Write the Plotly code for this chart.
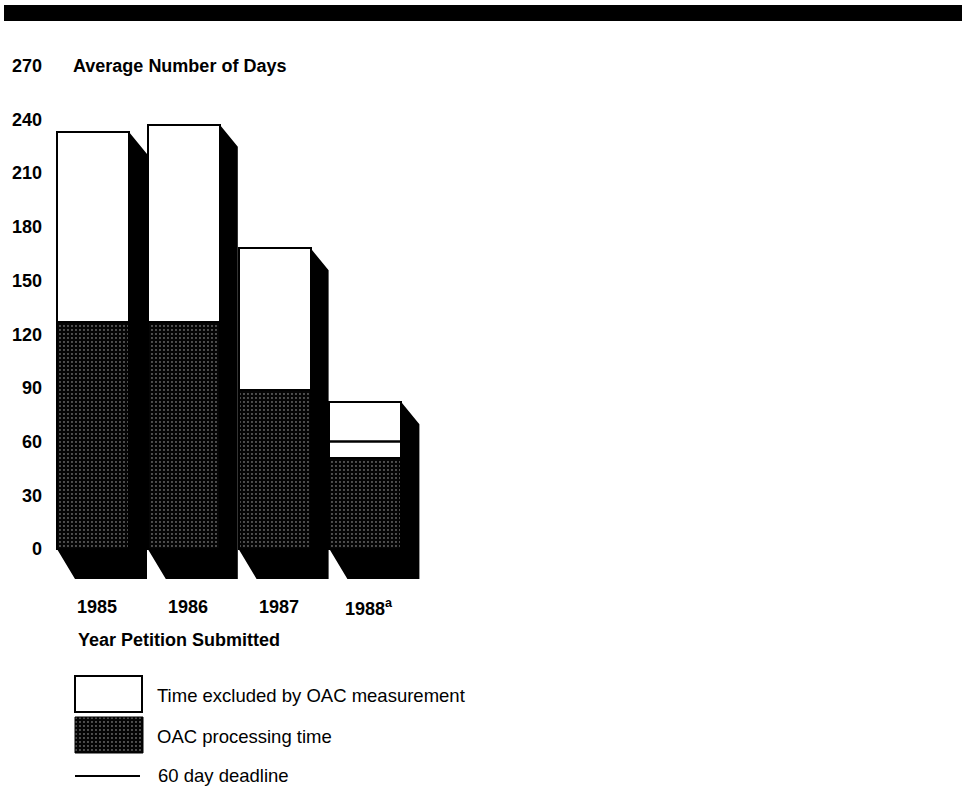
import plotly.graph_objects as go

# Average number of days to process petitions, by year submitted
years = ["1985", "1986", "1987", "1988<sup>a</sup>"]
processing_days = [127, 127, 89, 51]      # OAC processing time
excluded_days = [106, 110, 79, 31]        # time excluded by OAC measurement
deadline_days = 60                        # statutory 60 day deadline
y_ticks = [0, 30, 60, 90, 120, 150, 180, 210, 240, 270]

# ---- page geometry (pixels) ----
FIG_W, FIG_H = 962, 786
L, R, T, B = 50, 0, 0, 0
PW, PH = FIG_W - L - R, FIG_H - T - B
X0_PX, X_STEP = 93.0, 90.8          # pixel centre of first bar, spacing between bars
Y0_PX, Y_SCALE = 549.0, 1.79        # pixel row of zero, pixels per day
BAR_W_PX = 72.0
DEPTH_X, DEPTH_TOP, DEPTH_BASE = 18.0, 22.0, 30.0


def xd(px):
    return (px - X0_PX) / X_STEP


def yd(py):
    return (Y0_PX - py) / Y_SCALE


def xp(px):
    return (px - L) / PW


def yp(py):
    return (T + PH - py) / PH


bar_w = BAR_W_PX / X_STEP
dx = DEPTH_X / X_STEP
dy_top = DEPTH_TOP / Y_SCALE
dy_base = DEPTH_BASE / Y_SCALE
xs = list(range(len(years)))
totals = [p + e for p, e in zip(processing_days, excluded_days)]

FONT = "Liberation Sans, Arial, Helvetica, sans-serif"
dots = dict(shape=".", fillmode="replace", bgcolor="#050505",
            fgcolor="#bdbdbd", size=4, solidity=0.1)

fig = go.Figure()

fig.add_trace(go.Bar(
    x=xs, y=processing_days, width=bar_w, name="OAC processing time",
    marker=dict(color="#050505", pattern=dots, line=dict(color="black", width=2)),
    showlegend=False, hoverinfo="skip",
))
fig.add_trace(go.Bar(
    x=xs, y=excluded_days, width=bar_w, name="Time excluded by OAC measurement",
    marker=dict(color="white", line=dict(color="black", width=2)),
    showlegend=False, hoverinfo="skip",
))

# deadline segment, shown where it crosses the open (excluded) part of a bar
dl_x, dl_y = [], []
for i, p, tot in zip(xs, processing_days, totals):
    if p < deadline_days < tot:
        dl_x += [i - bar_w / 2, i + bar_w / 2, None]
        dl_y += [deadline_days, deadline_days, None]
fig.add_trace(go.Scatter(
    x=dl_x, y=dl_y, mode="lines", line=dict(color="black", width=2.5),
    showlegend=False, hoverinfo="skip",
))

shapes = []
# solid black side and base of each bar
for i, tot in zip(xs, totals):
    xl, xr = i - bar_w / 2, i + bar_w / 2
    path = (f"M {xr},{tot} L {xr + dx},{tot - dy_top} L {xr + dx},{-dy_base} "
            f"L {xl + dx},{-dy_base} L {xl},0 L {xr},0 Z")
    shapes.append(dict(type="path", path=path, xref="x", yref="y",
                       fillcolor="black", line=dict(width=0), layer="below"))

# heavy rule across the top of the page
shapes.append(dict(type="rect", xref="paper", yref="paper",
                   x0=xp(4), x1=xp(962), y0=yp(21), y1=yp(5),
                   fillcolor="black", line=dict(width=0)))

# key: open box, dotted box, rule
shapes.append(dict(type="rect", xref="x", yref="y",
                   x0=xd(75), x1=xd(142), y0=yd(712), y1=yd(676),
                   fillcolor="white", line=dict(color="black", width=2)))
shapes.append(dict(type="line", xref="x", yref="y",
                   x0=xd(75), x1=xd(140), y0=yd(776), y1=yd(776),
                   line=dict(color="black", width=2)))

kx = [xd(75), xd(143), xd(143), xd(75), xd(75)]
ky = [yd(717), yd(717), yd(753), yd(753), yd(717)]
fig.add_trace(go.Scatter(
    x=kx, y=ky, mode="lines", fill="toself", fillcolor="#050505",
    fillpattern=dots, line=dict(color="black", width=1),
    showlegend=False, hoverinfo="skip",
))

bold = dict(family=FONT, size=18, color="black", weight="bold")
plain = dict(family=FONT, size=18.5, color="black")

annotations = [
    dict(x=xd(71), y=270, xref="x", yref="y", text="Average Number of Days",
         showarrow=False, xanchor="left", yanchor="middle", font=bold),
    dict(x=xd(76), y=yd(640), xref="x", yref="y", text="Year Petition Submitted",
         showarrow=False, xanchor="left", yanchor="middle", font=bold),
    dict(x=xd(155), y=yd(695), xref="x", yref="y",
         text="Time excluded by OAC measurement",
         showarrow=False, xanchor="left", yanchor="middle", font=plain),
    dict(x=xd(155), y=yd(736), xref="x", yref="y", text="OAC processing time",
         showarrow=False, xanchor="left", yanchor="middle", font=plain),
    dict(x=xd(156), y=yd(775), xref="x", yref="y", text="60 day deadline",
         showarrow=False, xanchor="left", yanchor="middle", font=plain),
]
for i, label in zip(xs, years):
    annotations.append(dict(x=i, y=yd(607), xref="x", yref="y", text=label,
                            showarrow=False, xanchor="center", yanchor="middle",
                            xshift=4, font=bold))

fig.update_layout(
    width=FIG_W, height=FIG_H,
    margin=dict(l=L, r=R, t=T, b=B),
    paper_bgcolor="white", plot_bgcolor="white",
    barmode="stack", bargap=0,
    shapes=shapes, annotations=annotations,
    xaxis=dict(range=[xd(L), xd(L + PW)], visible=False, fixedrange=True),
    yaxis=dict(range=[yd(T + PH), yd(T)], tickvals=y_ticks,
               ticktext=[str(v) for v in y_ticks], tickfont=bold,
               ticklabelstandoff=7,
               showgrid=False, zeroline=False, showline=False, ticks="",
               fixedrange=True),
    showlegend=False,
)

fig.write_html("out.html")
